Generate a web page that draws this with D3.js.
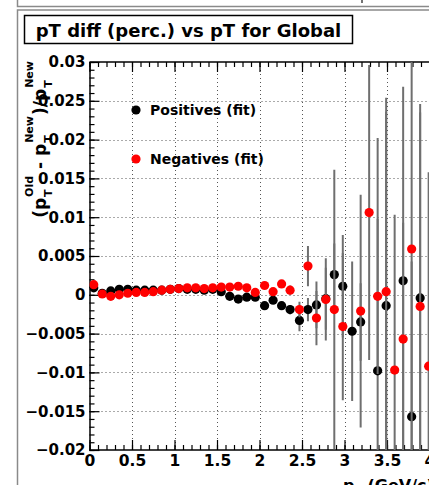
<!DOCTYPE html>
<html><head><meta charset="utf-8">
<script src="https://cdn.jsdelivr.net/npm/d3@7"></script>
<style>
body{margin:0;background:#fff}
svg{display:block}
text{font-family:"DejaVu Sans",sans-serif;font-weight:bold;fill:#000}
</style>
</head><body><svg id="c" width="429" height="485"></svg>
<script>
// ---- data ----
const posX   = [0.05,0.15,0.25,0.35,0.45,0.55,0.65,0.75,0.85,0.95,1.05,1.15,1.25,1.35,1.45,1.55,1.65,1.75,1.85,1.95,
                2.06,2.16,2.26,2.36,2.47,2.57,2.67,2.78,2.88,2.98,3.09,3.19,3.39,3.49,3.69,3.79,3.89];
const posVal = [0.0009,0.0002,0.0005,0.0007,0.0007,0.0006,0.0006,0.0006,0.0006,0.0007,0.0008,0.0007,0.0007,0.0006,0.0007,0.0004,-0.0002,-0.00055,-0.0003,-0.0003,
                -0.0014,-0.0007,-0.0014,-0.0019,-0.0033,-0.0019,-0.0013,-0.0005,0.0026,0.0011,-0.0047,-0.0035,-0.0098,-0.0014,0.0018,-0.0157,-0.0004];
const posErr = [0.0001,0.0001,0.0001,0.0001,0.0001,0.0001,0.0001,0.0001,0.0001,0.0001,0.0001,0.0001,0.0001,0.0001,0.0001,0.0001,0.0001,0.0002,0.0002,0.0003,
                0.0003,0.0004,0.0005,0.0006,0.0014,0.0015,0.003,0.004,0.004,0.0066,0.009,0.005,0.03,0.025,0.025,0.02,0.025];
const negX   = [0.05,0.15,0.25,0.35,0.45,0.55,0.65,0.75,0.85,0.95,1.05,1.15,1.25,1.35,1.45,1.55,1.65,1.75,1.85,1.95,
                2.06,2.16,2.26,2.36,2.47,2.57,2.67,2.78,2.88,2.98,3.19,3.29,3.39,3.49,3.59,3.69,3.79,3.89,3.99];
const negVal = [0.0013,0.0001,-0.0002,0.0000,0.0002,0.0003,0.0003,0.0004,0.0006,0.0007,0.0008,0.0009,0.0009,0.0008,0.0009,0.0010,0.0010,0.0011,0.0009,0.0003,
                0.0012,0.0004,0.0014,0.0006,-0.0019,0.0037,-0.0030,-0.0006,-0.0019,-0.0041,-0.0021,0.0106,-0.0002,0.0004,-0.0097,-0.0057,0.0059,-0.0015,-0.0092];
const negErr = [0.0001,0.0001,0.0001,0.0001,0.0001,0.0001,0.0001,0.0001,0.0001,0.0001,0.0001,0.0001,0.0001,0.0001,0.0001,0.0001,0.0001,0.0002,0.0002,0.0003,
                0.0003,0.0004,0.0005,0.0006,0.001,0.0026,0.0035,0.0053,0.018,0.0095,0.015,0.019,0.01,0.025,0.02,0.015,0.03,0.025,0.025];
const yTickVals   = [-0.02,-0.015,-0.01,-0.005,0,0.005,0.01,0.015,0.02,0.025,0.03];
const yTickLabels = ["\u22120.02","\u22120.015","\u22120.01","\u22120.005","0","0.005","0.01","0.015","0.02","0.025","0.03"];
const xTickVals   = [0,0.5,1,1.5,2,2.5,3,3.5,4];
const xTickLabels = ["0","0.5","1","1.5","2","2.5","3","3.5","4"];
const titleText = "pT diff (perc.) vs pT for Global";
const legendLabels = ["Positives (fit)","Negatives (fit)"];
const seriesColors = ["#000000","#ff0000"];

// ---- layout ----
const svg = d3.select("#c");
const X0 = 89.5, XPX = 85, YT = 62, YB = 450;
const x = d3.scaleLinear().domain([0,5]).range([X0, X0 + 5*XPX]);
const y = d3.scaleLinear().domain([-0.02,0.03]).range([YB, YT]);

svg.append("defs").append("clipPath").attr("id","frame")
  .append("rect").attr("x",X0).attr("y",YT).attr("width",429-X0).attr("height",YB-YT);

// canvas / pad borders
const grey = "#8a8a8a";
svg.append("path").attr("d","M17.5,0V6.5H429").attr("fill","none").attr("stroke",grey).attr("stroke-width",1.5);
svg.append("path").attr("d","M17.5,485V10H429").attr("fill","none").attr("stroke",grey).attr("stroke-width",1.5);
svg.append("line").attr("x1",362).attr("x2",362).attr("y1",0).attr("y2",3).attr("stroke","#444").attr("stroke-width",1.5);

// grid
const grid = svg.append("g").attr("stroke","#555").attr("stroke-width",1).attr("stroke-dasharray","1,3");
xTickVals.filter(v=>v>0).forEach(v=>{
  grid.append("line").attr("x1",Math.round(x(v))+0.5).attr("x2",Math.round(x(v))+0.5).attr("y1",YT).attr("y2",YB);
});
yTickVals.filter(v=>v>-0.02 && v<0.03).forEach(v=>{
  grid.append("line").attr("x1",X0).attr("x2",429).attr("y1",Math.round(y(v))+0.5).attr("y2",Math.round(y(v))+0.5);
});

// axes
const yMinor = d3.range(-20,31).map(k=>k/1000);
const xMinor = d3.range(0,51).map(k=>k/10);
function styleAxis(g){ g.selectAll("path").attr("stroke","#000").attr("stroke-width",1.5); g.selectAll("line").attr("stroke","#000").attr("stroke-width",1.2); }

svg.append("g").attr("transform",`translate(${X0},0)`)
  .call(d3.axisLeft(y).tickValues(yMinor).tickSizeInner(-5).tickSizeOuter(0).tickFormat(""))
  .call(styleAxis).select(".domain").remove();
const yAx = svg.append("g").attr("transform",`translate(${X0},0)`)
  .call(d3.axisLeft(y).tickValues(yTickVals).tickSizeInner(-10).tickSizeOuter(0).tickPadding(4)
        .tickFormat((d,i)=>yTickLabels[i]))
  .call(styleAxis);
yAx.selectAll("text").attr("font-size",15).attr("font-family","DejaVu Sans").attr("font-weight","bold").attr("fill","#000");

svg.append("g").attr("transform",`translate(0,${YB})`)
  .call(d3.axisBottom(x).tickValues(xMinor).tickSizeInner(-5).tickSizeOuter(0).tickFormat(""))
  .call(styleAxis).select(".domain").remove();
const xAx = svg.append("g").attr("transform",`translate(0,${YB})`)
  .call(d3.axisBottom(x).tickValues(xTickVals).tickSizeInner(-10).tickSizeOuter(0).tickPadding(5)
        .tickFormat((d,i)=>xTickLabels[i]))
  .call(styleAxis);
xAx.selectAll("text").attr("font-size",15.5).attr("font-family","DejaVu Sans").attr("font-weight","bold").attr("fill","#000");
xAx.select(".domain").attr("d",`M${X0},0H${X0+5*XPX}`);

// top axis ticks
svg.append("g").attr("transform",`translate(0,${YT})`)
  .call(d3.axisTop(x).tickValues(xMinor).tickSizeInner(-5).tickSizeOuter(0).tickFormat(""))
  .call(styleAxis).select(".domain").remove();
svg.append("g").attr("transform",`translate(0,${YT})`)
  .call(d3.axisTop(x).tickValues(xTickVals).tickSizeInner(-10).tickSizeOuter(0).tickFormat(""))
  .call(styleAxis).select(".domain").attr("d",`M${X0},0H${X0+5*XPX}`);

// data series
const plot = svg.append("g").attr("clip-path","url(#frame)");
function drawSeries(xs, vs, es, color){
  const g = plot.append("g");
  g.selectAll("line").data(xs).join("line")
    .attr("x1",d=>x(d)).attr("x2",d=>x(d))
    .attr("y1",(d,i)=>y(vs[i]-es[i])).attr("y2",(d,i)=>y(vs[i]+es[i]))
    .attr("stroke","#6f6f6f").attr("stroke-width",2);
  g.selectAll("circle").data(xs).join("circle")
    .attr("cx",d=>x(d)).attr("cy",(d,i)=>y(vs[i])).attr("r",4.6).attr("fill",color);
}
drawSeries(posX,posVal,posErr,seriesColors[0]);
drawSeries(negX,negVal,negErr,seriesColors[1]);

// legend
[[110,legendLabels[0],seriesColors[0]],[159,legendLabels[1],seriesColors[1]]].forEach(([cy,lab,col])=>{
  svg.append("circle").attr("cx",136).attr("cy",cy).attr("r",4.6).attr("fill",col);
  svg.append("text").attr("x",150).attr("y",cy+5).attr("font-size",14).text(lab);
});

// title box
svg.append("rect").attr("x",24.5).attr("y",15.5).attr("width",328).attr("height",28)
  .attr("fill","#fff").attr("stroke","#000").attr("stroke-width",1.5);
svg.append("text").attr("x",188.5).attr("y",37).attr("text-anchor","middle").attr("font-size",18).text(titleText);

// y-axis title (rotated, with sub/superscripts)
const yt = svg.append("g");
const segs = [{t:"(p"},{sub:"T",sup:"Old"},{t:" - p"},{sub:"T",sup:"New"},{t:")/p"},{sub:"T",sup:"New"}];
let cur = 0;
segs.forEach(s=>{
  if(s.t){
    const el = yt.append("text").attr("x",cur).attr("y",0).attr("font-size",17).style("white-space","pre").text(s.t);
    cur += el.node().getComputedTextLength();
  } else {
    const a = yt.append("text").attr("x",cur+1).attr("y",6).attr("font-size",11).text(s.sub);
    const b = yt.append("text").attr("x",cur+1).attr("y",-13).attr("font-size",11).text(s.sup);
    cur += Math.max(a.node().getComputedTextLength(), b.node().getComputedTextLength()) + 2;
  }
});
yt.attr("transform",`translate(46,${60+cur}) rotate(-90)`);

// x-axis title (cut off at bottom)
const xt = svg.append("text").attr("x",343).attr("y",491).attr("font-size",16);
xt.append("tspan").text("p");
xt.append("tspan").attr("font-size",11).attr("dy",4).text("T");
xt.append("tspan").attr("dy",-4).text(" (GeV/c)");
</script>
</body></html>
